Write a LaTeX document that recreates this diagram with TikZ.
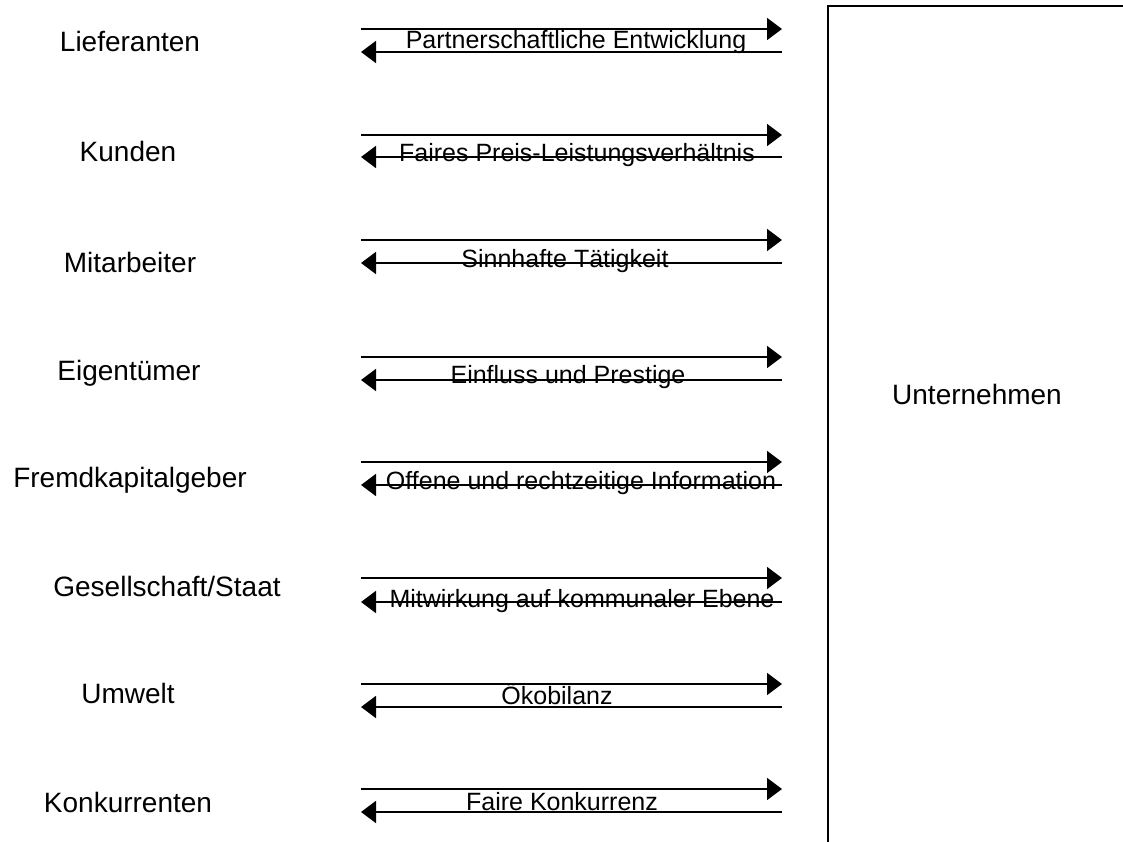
\documentclass[tikz,border=0pt]{standalone}
\usepackage{fontspec}
\setmainfont{Liberation Sans}
\usepackage{tikz}
\usetikzlibrary{arrows.meta}
\tikzset{party/.style = {anchor = base, inner sep = 0, font = \fontsize{28}{30}\selectfont},
  topic/.style = {anchor = base, inner sep = 0, font = \fontsize{25}{27}\selectfont},
  flow/.style = {line width = 1.7pt, -{Triangle[length = 15pt, width = 22pt]}}}

\begin{document}
\begin{tikzpicture}[x = 1pt, y = -1pt]
    \useasboundingbox (0, 0) rectangle (1123, 842);
    \draw [line width = 1.7pt] (828, 6) rectangle (1150, 870);
    \node [party] (firm) at (977, 404) {Unternehmen};
    \foreach \i/\name/\px/\pb/\up/\dn/\txt/\tx/\tb in {
        1/Lieferanten/130/52/29/52/Partnerschaftliche Entwicklung/576/49,
        2/Kunden/128/162/135/157/Faires Preis-Leistungsverhältnis/577/162,
        3/Mitarbeiter/130/272/240/263/Sinnhafte Tätigkeit/565/267,
        4/Eigentümer/129/380/357/380/Einfluss und Prestige/568/383,
        5/Fremdkapitalgeber/130/487/462/485/Offene und rechtzeitige Information/581/489,
        6/{Gesellschaft/Staat}/167/596/578/602/Mitwirkung auf kommunaler Ebene/582/607,
        7/Umwelt/128/703/684/707/Ökobilanz/557/704,
        8/Konkurrenten/128/812/789/812/Faire Konkurrenz/562/810}{
      \node [party] (p\i) at (\px, \pb) {\name};
      \coordinate (ul\i) at (361, \up);
      \coordinate (ur\i) at (782, \up);
      \coordinate (dl\i) at (361, \dn);
      \coordinate (dr\i) at (782, \dn);
      \draw [flow] (ul\i) -- (ur\i);
      \draw [flow] (dr\i) -- (dl\i);
      \node [topic] (t\i) at (\tx, \tb) {\txt};
    }
  \end{tikzpicture}
\end{document}
